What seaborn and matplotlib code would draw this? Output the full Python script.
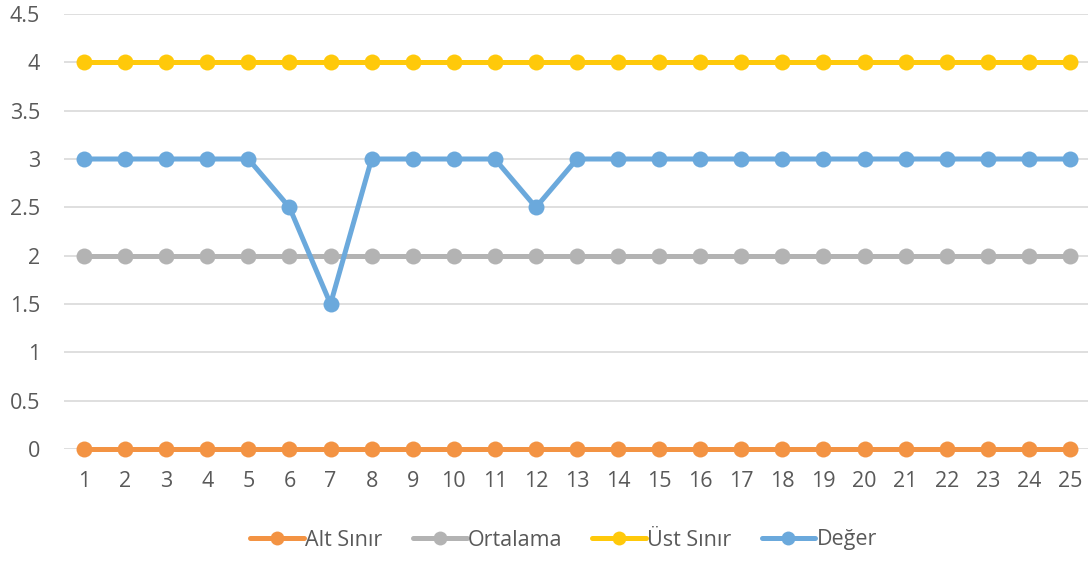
import pandas as pd
import matplotlib
matplotlib.use('Agg')
import matplotlib.pyplot as plt
import seaborn as sns

# chart values
days = list(range(1, 26))
alt_sinir = [0] * 25
ortalama = [2] * 25
ust_sinir = [4] * 25
deger = [3, 3, 3, 3, 3, 2.5, 1.5, 3, 3, 3, 3, 2.5, 3, 3, 3, 3, 3, 3, 3, 3, 3, 3, 3, 3, 3]

series_names = ['Alt Sınır', 'Ortalama', 'Üst Sınır', 'Değer']
colors = ['#F39343', '#B3B3B3', '#FFC90A', '#6BA9DC']

df = pd.DataFrame({'x': days * 4,
                   'y': alt_sinir + ortalama + ust_sinir + deger,
                   'seri': sum([[n] * 25 for n in series_names], [])})

sns.set_style('white')
plt.rcParams['font.family'] = ['Open Sans', 'DejaVu Sans']

fig = plt.figure(figsize=(10.88, 5.63), dpi=100)
ax = fig.add_axes([63.5 / 1088, 114 / 563, 1027 / 1088, 435 / 563])

sns.lineplot(data=df, x='x', y='y', hue='seri', hue_order=series_names,
             palette=colors, marker='o', markersize=11.5, markeredgewidth=0,
             linewidth=3.6, ax=ax, clip_on=False, zorder=3)

ax.set_xlim(0.5, 25.5)
ax.set_ylim(0, 4.5)
ax.set_xticks(days)
ax.set_yticks([0, 0.5, 1, 1.5, 2, 2.5, 3, 3.5, 4, 4.5])
ax.set_yticklabels(['0', '0.5', '1', '1.5', '2', '2.5', '3', '3.5', '4', '4.5'])
ax.grid(axis='y', color='#D9D9D9', linewidth=1.2, zorder=0)
ax.set_axisbelow(True)
for s in ax.spines.values():
    s.set_visible(False)
ax.tick_params(axis='both', length=0, labelsize=15.5, labelcolor='#595959')
ax.tick_params(axis='x', pad=16)
ax.tick_params(axis='y', pad=17)
ax.set_xlabel('')
ax.set_ylabel('')

handles, labels = ax.get_legend_handles_labels()
for h in handles:
    h.set_markersize(10)
leg = ax.legend(handles, labels, loc='center', bbox_to_anchor=(0.518, 23 / 563),
                bbox_transform=fig.transFigure, ncol=4, frameon=False,
                fontsize=15.5, handlelength=2.5, handletextpad=0.05,
                columnspacing=1.4)
for t in leg.get_texts():
    t.set_color('#595959')

fig.savefig('out.png', dpi=100)
